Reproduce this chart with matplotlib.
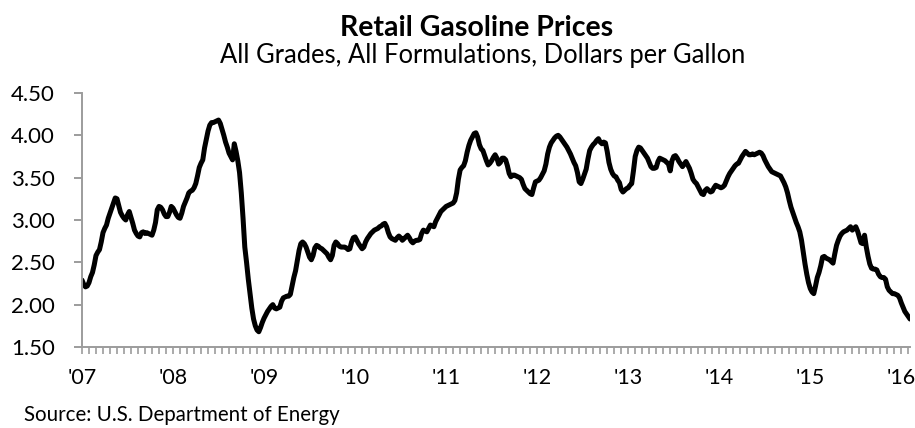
import numpy as np
import matplotlib
matplotlib.use("Agg")
import matplotlib.pyplot as plt
from matplotlib.ticker import MultipleLocator

plt.rcParams['font.family'] = ['Lato', 'DejaVu Sans']

# weekly retail gasoline price, $/gal, one list per year (52 weeks each)
price_2007 = [2.29, 2.24, 2.21, 2.22, 2.26, 2.33, 2.38, 2.47, 2.58, 2.62, 2.65, 2.74, 2.85,
              2.90, 2.94, 3.02, 3.08, 3.14, 3.20, 3.26, 3.25, 3.17, 3.09, 3.05, 3.02, 3.00,
              3.06, 3.10, 3.03, 2.96, 2.88, 2.84, 2.81, 2.80, 2.85, 2.86, 2.84, 2.85, 2.84,
              2.83, 2.82, 2.88, 2.97, 3.12, 3.16, 3.15, 3.12, 3.07, 3.04, 3.04, 3.09, 3.16]
price_2008 = [3.14, 3.10, 3.06, 3.03, 3.02, 3.08, 3.16, 3.21, 3.26, 3.32, 3.34, 3.35, 3.38,
              3.43, 3.52, 3.62, 3.67, 3.71, 3.85, 3.95, 4.05, 4.12, 4.15, 4.15, 4.16, 4.17,
              4.18, 4.14, 4.07, 4.00, 3.92, 3.86, 3.79, 3.75, 3.71, 3.90, 3.81, 3.70, 3.56,
              3.32, 3.02, 2.68, 2.50, 2.30, 2.13, 1.96, 1.83, 1.75, 1.70, 1.68, 1.73, 1.79]
price_2009 = [1.84, 1.88, 1.92, 1.95, 1.98, 2.00, 1.96, 1.95, 1.96, 1.97, 2.04, 2.08, 2.09,
              2.10, 2.10, 2.12, 2.22, 2.32, 2.40, 2.52, 2.64, 2.72, 2.74, 2.72, 2.68, 2.62,
              2.56, 2.53, 2.58, 2.67, 2.70, 2.69, 2.67, 2.66, 2.64, 2.62, 2.60, 2.56, 2.53,
              2.58, 2.70, 2.74, 2.72, 2.69, 2.68, 2.68, 2.68, 2.67, 2.65, 2.66, 2.74, 2.79]
price_2010 = [2.80, 2.76, 2.72, 2.69, 2.66, 2.68, 2.74, 2.78, 2.81, 2.84, 2.86, 2.88, 2.89,
              2.90, 2.92, 2.93, 2.95, 2.96, 2.92, 2.85, 2.80, 2.78, 2.77, 2.76, 2.79, 2.81,
              2.79, 2.76, 2.78, 2.80, 2.82, 2.79, 2.75, 2.73, 2.75, 2.76, 2.76, 2.77, 2.84,
              2.88, 2.87, 2.86, 2.90, 2.94, 2.93, 2.92, 2.98, 3.02, 3.06, 3.10, 3.12, 3.14]
price_2011 = [3.16, 3.17, 3.18, 3.19, 3.20, 3.23, 3.32, 3.48, 3.59, 3.62, 3.64, 3.70, 3.80,
              3.88, 3.94, 3.98, 4.02, 4.03, 3.98, 3.89, 3.84, 3.82, 3.76, 3.70, 3.65, 3.67,
              3.70, 3.74, 3.77, 3.73, 3.66, 3.68, 3.73, 3.73, 3.71, 3.64, 3.55, 3.51, 3.53,
              3.53, 3.52, 3.51, 3.50, 3.48, 3.42, 3.37, 3.35, 3.33, 3.31, 3.30, 3.38, 3.45]
price_2012 = [3.46, 3.47, 3.50, 3.54, 3.58, 3.66, 3.78, 3.86, 3.91, 3.94, 3.97, 3.99, 4.00,
              3.98, 3.95, 3.92, 3.89, 3.86, 3.82, 3.78, 3.73, 3.68, 3.64, 3.56, 3.45, 3.43,
              3.48, 3.54, 3.60, 3.72, 3.82, 3.86, 3.89, 3.91, 3.94, 3.96, 3.92, 3.90, 3.92,
              3.91, 3.81, 3.68, 3.60, 3.55, 3.52, 3.51, 3.47, 3.44, 3.36, 3.33, 3.35, 3.37]
price_2013 = [3.38, 3.41, 3.43, 3.58, 3.75, 3.82, 3.86, 3.85, 3.82, 3.79, 3.76, 3.73, 3.68,
              3.63, 3.61, 3.61, 3.62, 3.69, 3.73, 3.72, 3.71, 3.70, 3.68, 3.66, 3.58, 3.70,
              3.75, 3.76, 3.73, 3.69, 3.66, 3.63, 3.66, 3.69, 3.65, 3.61, 3.55, 3.48, 3.45,
              3.43, 3.39, 3.35, 3.31, 3.30, 3.35, 3.37, 3.35, 3.33, 3.34, 3.38, 3.41, 3.40]
price_2014 = [3.39, 3.38, 3.39, 3.41, 3.46, 3.51, 3.55, 3.58, 3.61, 3.64, 3.66, 3.67, 3.71,
              3.75, 3.78, 3.81, 3.79, 3.77, 3.77, 3.78, 3.77, 3.78, 3.79, 3.80, 3.79, 3.76,
              3.71, 3.67, 3.63, 3.60, 3.57, 3.56, 3.55, 3.54, 3.53, 3.52, 3.48, 3.44, 3.39,
              3.32, 3.23, 3.15, 3.09, 3.03, 2.97, 2.92, 2.86, 2.76, 2.62, 2.48, 2.36, 2.26]
price_2015 = [2.19, 2.15, 2.13, 2.22, 2.32, 2.38, 2.46, 2.56, 2.57, 2.55, 2.54, 2.53, 2.51,
              2.49, 2.60, 2.70, 2.76, 2.81, 2.84, 2.86, 2.87, 2.88, 2.90, 2.92, 2.88, 2.90,
              2.92, 2.87, 2.80, 2.73, 2.72, 2.82, 2.68, 2.57, 2.48, 2.43, 2.42, 2.42, 2.41,
              2.36, 2.33, 2.32, 2.32, 2.30, 2.21, 2.17, 2.15, 2.13, 2.13, 2.12, 2.11, 2.08]
price_2016 = [2.02, 1.97, 1.92, 1.89, 1.86, 1.83]

year_labels = ["'07", "'08", "'09", "'10", "'11", "'12", "'13", "'14", "'15", "'16"]
y_ticks = [1.50, 2.00, 2.50, 3.00, 3.50, 4.00, 4.50]

prices = (price_2007 + price_2008 + price_2009 + price_2010 + price_2011 +
          price_2012 + price_2013 + price_2014 + price_2015 + price_2016)
weeks = np.arange(len(prices))

fig = plt.figure(figsize=(9.15, 4.28), dpi=100)
ax = fig.add_axes([0.0896, 0.1893, 0.905, 0.5935])

ax.plot(weeks, prices, color='black', lw=3.6, solid_joinstyle='round', solid_capstyle='round')

ax.set_xlim(0, len(prices) - 1)
ax.set_ylim(1.5, 4.5)
ax.set_yticks(y_ticks)
ax.set_yticklabels(['%.2f' % v for v in y_ticks])
ax.set_xticks(np.arange(0, len(prices), 52))
ax.set_xticklabels(year_labels)
ax.xaxis.set_minor_locator(MultipleLocator(4))

grey = '#9c9c9c'
for s in ['top', 'right']:
    ax.spines[s].set_visible(False)
for s in ['left', 'bottom']:
    ax.spines[s].set_color(grey)
    ax.spines[s].set_linewidth(1.4)
ax.tick_params(axis='y', length=5.5, width=1.4, color=grey, pad=14, labelsize=16)
ax.tick_params(axis='x', which='both', length=4.8, width=1.2, color=grey, pad=10.5, labelsize=15.5)

fig.text(0.521, 1 - 36 / 428, 'Retail Gasoline Prices', ha='center', va='baseline',
         fontsize=20.5, fontweight='bold')
fig.text(0.527, 1 - 63 / 428, 'All Grades, All Formulations, Dollars per Gallon',
         ha='center', va='baseline', fontsize=18.4)
fig.text(24 / 915, 1 - 421 / 428, 'Source: U.S. Department of Energy', ha='left',
         va='baseline', fontsize=14.8)

fig.savefig('out.png', dpi=100)
